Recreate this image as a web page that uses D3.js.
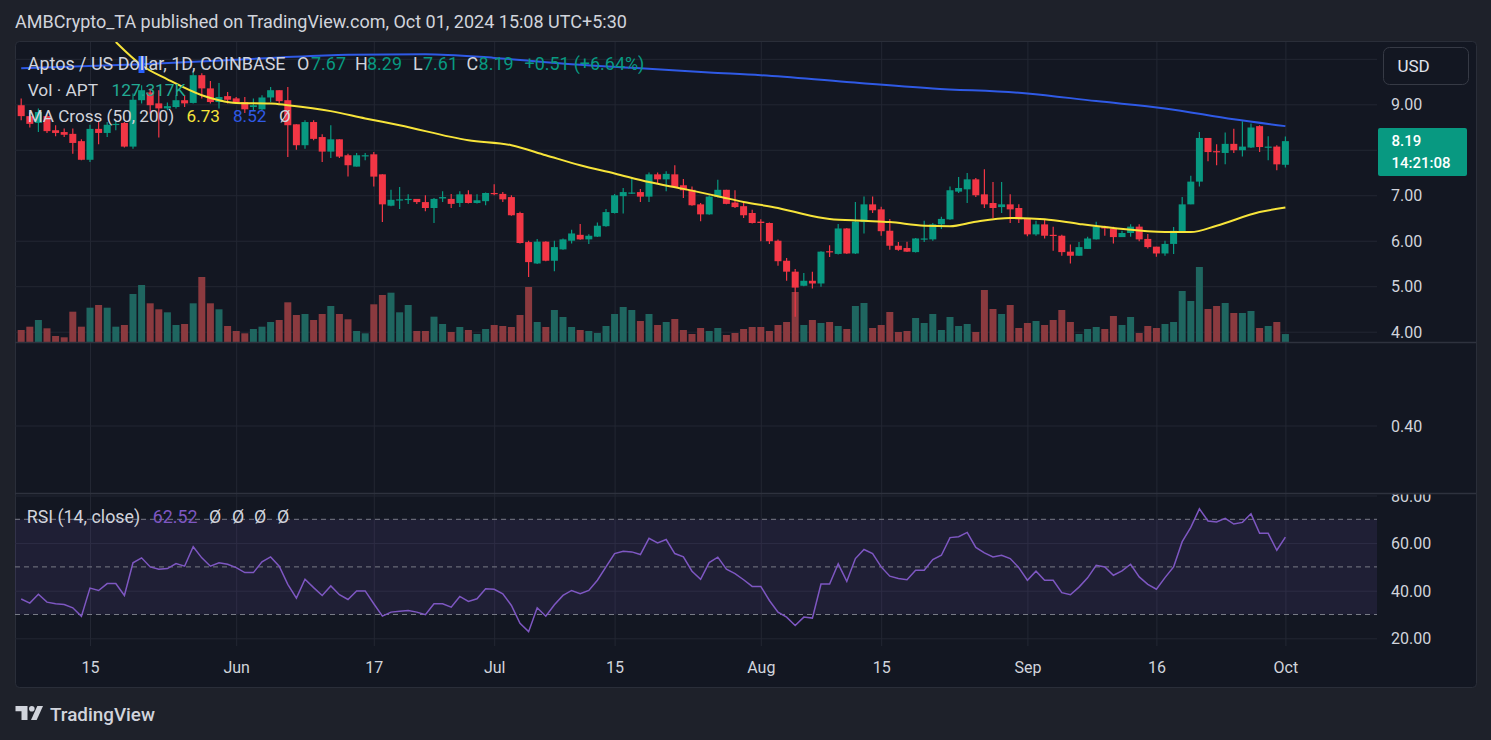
<!DOCTYPE html>
<html>
<head>
<meta charset="utf-8">
<title>Aptos / US Dollar</title>
<script src="https://cdn.jsdelivr.net/npm/d3@7"></script>
<style>
    html, body { margin: 0; padding: 0; background: #1e212a; }
    #chart { width: 1491px; height: 740px; }
    text { font-family: Roboto, "Noto Sans", sans-serif; }
</style>
</head>
<body>
<div id="chart"></div>
<script>

/* * * * * * * * * * * * * *
*    APT / USD daily      *
* * * * * * * * * * * * * */

// first candle of the visible range, one candle per day after it
const startDay = "2024-05-07";

const opens = [8.98, 8.74, 8.59, 8.74, 8.43, 8.39, 8.35, 8.19, 7.78, 8.46,
    8.37, 8.56, 8.59, 8.07, 9.09, 9.26, 9.02, 8.91, 8.94, 9.09,
    9.03, 9.64, 9.35, 9.05, 9.18, 9.13, 9.05, 8.94, 8.89, 9.15,
    9.31, 9.09, 8.56, 8.10, 8.61, 8.28, 7.96, 8.23, 7.88, 7.63,
    7.86, 7.90, 7.46, 6.77, 6.89, 6.91, 6.92, 6.85, 6.72, 6.93,
    6.92, 6.83, 7.02, 6.83, 6.87, 7.05, 7.03, 6.96, 6.61, 5.97,
    5.50, 5.98, 5.56, 5.81, 6.00, 6.13, 6.03, 6.09, 6.32, 6.61,
    6.98, 7.05, 7.07, 6.97, 7.46, 7.35, 7.46, 7.22, 7.12, 6.80,
    6.58, 6.96, 7.12, 6.84, 6.76, 6.61, 6.42, 6.39, 6.00, 5.56,
    5.32, 5.01, 5.12, 5.06, 5.77, 5.71, 6.27, 5.72, 6.41, 6.80,
    6.69, 6.22, 5.89, 5.84, 5.75, 6.04, 6.03, 6.36, 6.47, 7.08,
    7.13, 7.35, 7.02, 6.83, 6.74, 6.80, 6.72, 6.48, 6.14, 6.36,
    6.13, 6.11, 5.76, 5.67, 5.82, 6.03, 6.31, 6.27, 6.08, 6.17,
    6.31, 6.04, 5.87, 5.72, 5.93, 6.20, 6.80, 7.30, 8.26, 7.97,
    7.93, 8.13, 7.99, 8.05, 8.52, 8.06, 8.07, 7.67];

const highs = [9.13, 8.82, 8.91, 8.78, 8.54, 8.47, 8.47, 8.23, 8.55, 8.61,
    8.61, 8.65, 8.61, 9.24, 9.42, 9.35, 9.31, 9.04, 9.20, 9.20,
    9.71, 9.68, 9.51, 9.47, 9.27, 9.16, 9.16, 9.13, 9.20, 9.38,
    9.31, 9.38, 8.56, 8.65, 8.65, 8.34, 8.54, 8.23, 7.91, 7.93,
    7.93, 7.95, 7.46, 7.12, 7.18, 7.02, 6.92, 7.00, 6.94, 7.09,
    7.03, 7.09, 7.11, 7.02, 7.06, 7.24, 7.07, 7.00, 6.64, 6.00,
    6.04, 5.99, 6.00, 6.05, 6.24, 6.37, 6.14, 6.40, 6.70, 7.03,
    7.16, 7.38, 7.14, 7.50, 7.50, 7.53, 7.66, 7.36, 7.19, 6.83,
    7.00, 7.34, 7.12, 7.11, 6.86, 6.68, 6.47, 6.40, 6.03, 5.62,
    5.38, 5.29, 5.32, 5.77, 5.90, 6.37, 6.28, 6.85, 6.97, 6.97,
    6.75, 6.48, 5.97, 5.98, 6.06, 6.44, 6.39, 6.53, 7.19, 7.40,
    7.49, 7.38, 7.57, 7.29, 7.29, 7.02, 6.80, 6.50, 6.44, 6.46,
    6.31, 6.13, 5.92, 5.97, 6.09, 6.42, 6.33, 6.31, 6.22, 6.36,
    6.36, 6.15, 5.87, 6.00, 6.30, 6.96, 7.43, 8.39, 8.26, 8.12,
    8.38, 8.46, 8.63, 8.58, 8.54, 8.30, 8.10, 8.29];

const lows = [8.65, 8.49, 8.39, 8.37, 8.30, 8.28, 7.91, 7.77, 7.73, 8.12,
    8.28, 8.43, 8.05, 8.02, 9.02, 8.80, 8.27, 8.87, 8.91, 8.94,
    9.02, 9.13, 9.02, 8.91, 9.02, 9.02, 8.81, 8.87, 8.87, 9.05,
    9.02, 7.84, 8.00, 8.02, 8.21, 7.73, 7.82, 7.82, 7.41, 7.63,
    7.77, 7.19, 6.41, 6.76, 6.70, 6.81, 6.81, 6.65, 6.39, 6.85,
    6.72, 6.74, 6.82, 6.82, 6.78, 7.00, 6.85, 6.55, 5.94, 5.20,
    5.49, 5.55, 5.33, 5.80, 5.94, 6.02, 5.93, 6.08, 6.31, 6.60,
    6.60, 7.03, 6.85, 6.85, 7.27, 7.09, 7.17, 6.94, 6.77, 6.43,
    6.57, 6.95, 6.80, 6.72, 6.50, 6.38, 5.99, 5.93, 5.45, 5.12,
    4.33, 5.00, 4.95, 4.99, 5.64, 5.70, 5.71, 5.71, 6.16, 6.61,
    6.11, 5.80, 5.78, 5.75, 5.74, 5.97, 6.00, 6.26, 6.46, 7.05,
    6.83, 6.96, 6.72, 6.50, 6.61, 6.39, 6.39, 6.10, 6.11, 6.05,
    5.78, 5.67, 5.50, 5.67, 5.82, 6.03, 6.11, 5.94, 6.08, 6.09,
    5.99, 5.83, 5.65, 5.67, 5.71, 6.19, 6.80, 7.19, 7.75, 7.66,
    7.68, 7.93, 7.85, 8.04, 7.95, 7.77, 7.55, 7.61];

const closes = [8.74, 8.57, 8.83, 8.41, 8.37, 8.33, 8.15, 7.78, 8.46, 8.37,
    8.55, 8.57, 8.07, 9.10, 9.31, 8.98, 8.91, 8.96, 9.09, 9.02,
    9.64, 9.35, 9.05, 9.16, 9.10, 9.05, 8.89, 8.98, 9.15, 9.31,
    9.07, 8.54, 8.10, 8.61, 8.24, 7.96, 8.23, 7.85, 7.66, 7.88,
    7.88, 7.41, 6.80, 6.90, 6.91, 6.92, 6.85, 6.72, 6.92, 6.96,
    6.81, 7.02, 6.83, 6.89, 7.05, 7.04, 6.91, 6.56, 5.95, 5.53,
    5.98, 5.56, 5.86, 6.03, 6.16, 6.03, 6.11, 6.33, 6.63, 7.00,
    7.07, 7.06, 6.97, 7.46, 7.35, 7.47, 7.18, 7.11, 6.78, 6.58,
    6.97, 7.12, 6.81, 6.74, 6.56, 6.39, 6.39, 5.99, 5.55, 5.32,
    4.97, 5.12, 5.06, 5.76, 5.76, 6.27, 5.72, 6.42, 6.80, 6.67,
    6.21, 5.89, 5.80, 5.76, 6.05, 6.05, 6.36, 6.48, 7.11, 7.16,
    7.35, 7.00, 6.80, 6.72, 6.80, 6.69, 6.47, 6.14, 6.36, 6.11,
    6.12, 5.75, 5.67, 5.86, 6.05, 6.31, 6.27, 6.08, 6.17, 6.31,
    6.03, 5.86, 5.72, 5.93, 6.22, 6.80, 7.30, 8.26, 7.95, 7.96,
    8.13, 7.99, 8.07, 8.49, 8.06, 8.07, 7.68, 8.19];

// thousands of APT
const volumes = [192, 245, 352, 219, 96, 75, 485, 245, 549, 592,
    549, 245, 272, 768, 912, 619, 523, 475, 272, 288,
    619, 1040, 619, 523, 256, 176, 139, 208, 245, 320,
    352, 635, 432, 448, 352, 448, 576, 448, 363, 176,
    139, 603, 752, 789, 475, 592, 176, 176, 405, 288,
    160, 240, 192, 128, 208, 272, 256, 240, 432, 880,
    320, 240, 512, 400, 240, 192, 176, 144, 256, 448,
    560, 512, 336, 448, 272, 320, 368, 192, 128, 224,
    176, 224, 112, 144, 208, 240, 240, 176, 272, 320,
    800, 272, 352, 304, 320, 256, 208, 576, 624, 224,
    272, 480, 160, 176, 384, 304, 448, 192, 400, 256,
    288, 160, 832, 528, 448, 592, 224, 304, 336, 272,
    352, 512, 320, 128, 208, 240, 208, 416, 272, 400,
    144, 256, 224, 288, 320, 816, 656, 1200, 528, 576,
    624, 464, 464, 496, 224, 256, 320, 127.317];

const rsiValues = [36.5, 34.8, 38.5, 35.2, 34.5, 34.2, 32.8, 29.2, 41.1, 40.1,
    43.0, 43.0, 38.0, 51.7, 53.8, 50.0, 49.0, 49.3, 51.4, 50.3,
    58.5, 53.8, 50.3, 51.7, 51.1, 49.7, 47.6, 47.6, 52.1, 54.2,
    50.3, 42.7, 36.9, 44.8, 41.3, 38.0, 42.0, 38.3, 36.3, 39.9,
    39.9, 34.5, 29.3, 31.0, 31.4, 31.7, 31.0, 29.9, 34.5, 34.5,
    33.1, 37.6, 35.5, 36.6, 40.8, 40.6, 38.7, 33.8, 26.3, 22.8,
    32.8, 29.3, 34.1, 38.0, 40.1, 38.7, 40.1, 44.4, 50.0, 55.6,
    56.6, 56.3, 55.2, 62.0, 60.1, 61.5, 55.6, 54.2, 48.2, 44.8,
    51.8, 54.1, 49.0, 47.2, 44.6, 41.8, 41.8, 35.9, 31.0, 28.9,
    25.4, 28.9, 28.5, 42.8, 42.8, 51.3, 43.9, 53.5, 57.3, 55.6,
    50.0, 46.1, 45.1, 44.6, 48.6, 48.6, 53.1, 54.9, 62.3, 62.7,
    64.5, 58.2, 55.9, 54.2, 54.9, 53.5, 49.7, 44.4, 48.2, 44.4,
    44.4, 39.2, 38.3, 41.5, 45.4, 50.7, 50.0, 46.5, 48.3, 51.1,
    45.8, 42.7, 40.6, 45.5, 50.0, 60.6, 66.6, 74.4, 69.3, 68.9,
    70.4, 68.0, 68.7, 72.3, 64.1, 64.1, 57.0, 62.52];

// moving averages, read at sample days (day number counted from startDay)
const ma50Days = [11, 14, 17, 21, 23, 25, 29, 31, 36, 40, 44, 52, 57, 61, 65, 69, 73, 77, 81,
    84, 88, 90, 94, 98, 101, 105, 108, 111, 115, 119, 123, 127, 133, 136, 139, 144, 147];
const ma50Values = [10.37, 9.86, 9.55, 9.20, 9.09, 9.03, 9.02, 8.98, 8.85, 8.69, 8.54, 8.21, 8.10, 7.88,
    7.66, 7.48, 7.29, 7.14, 6.98, 6.85, 6.72, 6.63, 6.48, 6.44, 6.41, 6.33, 6.32, 6.42, 6.50,
    6.47, 6.37, 6.28, 6.19, 6.19, 6.33, 6.63, 6.73];

const ma200Days = [0, 14, 29, 38, 47, 55, 64, 72, 80, 86, 96, 106, 117, 125, 133, 141, 147];
const ma200Values = [9.79, 9.88, 10.02, 10.09, 10.10, 10.02, 9.88, 9.79, 9.70, 9.64, 9.49, 9.35,
    9.24, 9.07, 8.91, 8.67, 8.52];

const priceTicks = [4, 5, 6, 7, 8, 9, 10];
const rsiTicks = [20, 40, 60, 80];
const rsiLevels = [30, 50, 70];
const blankTicks = [0.40];
const timeTicks = ["2024-05-15", "2024-06-01", "2024-06-17", "2024-07-01", "2024-07-15",
    "2024-08-01", "2024-08-15", "2024-09-01", "2024-09-16", "2024-10-01"];
const timeLabels = ["15", "Jun", "17", "Jul", "15", "Aug", "15", "Sep", "16", "Oct"];

const parseDay = d3.utcParse("%Y-%m-%d");
const green = "#089981", red = "#f23645";

function fitText(sel, targetWidth) {
    let len = sel.node().getComputedTextLength();
    let size = parseFloat(sel.attr("font-size"));
    sel.attr("font-size", size * targetWidth / len);
    return size * targetWidth / len;
}

class ChartVis {

    constructor(parentElement) {
        this.parentElement = parentElement;
        this.initVis();
    }

    initVis() {
        let vis = this;

        vis.width = 1491;
        vis.height = 740;

        // pane layout
        vis.plotLeft = 15;
        vis.plotRight = 1377;
        vis.frameRight = 1476;
        vis.priceTop = 42;
        vis.priceBottom = 342;
        vis.midBottom = 493;
        vis.rsiBottom = 646;
        vis.frameBottom = 687;

        vis.svg = d3.select("#" + vis.parentElement).append("svg")
            .attr("width", vis.width)
            .attr("height", vis.height);

        vis.svg.append("rect")
            .attr("width", vis.width).attr("height", vis.height)
            .attr("fill", "#1e212a");

        vis.svg.append("rect")
            .attr("x", 15.5).attr("y", 41.5)
            .attr("width", vis.frameRight - 15).attr("height", vis.frameBottom - 41)
            .attr("rx", 4)
            .attr("fill", "#131722")
            .attr("stroke", "#2a2e39");

        // scales
        vis.x = d3.scaleUtc()
            .domain([parseDay(startDay), parseDay("2024-10-01")])
            .range([21.2, 1285.4]);
        vis.y = d3.scaleLinear().domain([4, 9]).range([331.7, 104.3]);
        vis.yVol = d3.scaleLinear().domain([0, 1600]).range([vis.priceBottom, vis.priceBottom - 100]);
        vis.yBlank = d3.scaleLinear().domain([0.2, 0.6]).range([505.5, 345.5]);
        vis.yRsi = d3.scaleLinear().domain([20, 80]).range([638.3, 495.5]);

        let defs = vis.svg.append("defs");
        defs.append("clipPath").attr("id", "clip-price").append("rect")
            .attr("x", vis.plotLeft).attr("y", vis.priceTop)
            .attr("width", vis.plotRight - vis.plotLeft).attr("height", vis.priceBottom - vis.priceTop);
        defs.append("clipPath").attr("id", "clip-rsi").append("rect")
            .attr("x", vis.plotLeft).attr("y", vis.midBottom)
            .attr("width", vis.plotRight - vis.plotLeft).attr("height", vis.rsiBottom - vis.midBottom);
        defs.append("clipPath").attr("id", "clip-rsi-axis").append("rect")
            .attr("x", vis.plotRight).attr("y", vis.midBottom + 1.5)
            .attr("width", vis.frameRight - vis.plotRight).attr("height", vis.rsiBottom - vis.midBottom);

        vis.gridGroup = vis.svg.append("g");
        vis.rsiBack = vis.svg.append("g").attr("clip-path", "url(#clip-rsi)");
        vis.volGroup = vis.svg.append("g").attr("clip-path", "url(#clip-price)");
        vis.candleGroup = vis.svg.append("g").attr("clip-path", "url(#clip-price)");
        vis.maGroup = vis.svg.append("g").attr("clip-path", "url(#clip-price)");
        vis.rsiGroup = vis.svg.append("g").attr("clip-path", "url(#clip-rsi)");
        vis.axisGroup = vis.svg.append("g");
        vis.legendGroup = vis.svg.append("g");

        vis.wrangleData();
    }

    wrangleData() {
        let vis = this;
        let start = parseDay(startDay);

        vis.candles = opens.map((o, i) => ({
            date: d3.utcDay.offset(start, i),
            open: o, high: highs[i], low: lows[i], close: closes[i],
            volume: volumes[i], rsi: rsiValues[i],
            up: closes[i] >= o
        }));

        vis.ma50 = ma50Days.map((d, i) => ({date: d3.utcDay.offset(start, d), value: ma50Values[i]}));
        vis.ma200 = ma200Days.map((d, i) => ({date: d3.utcDay.offset(start, d), value: ma200Values[i]}));

        vis.updateVis();
    }

    updateVis() {
        let vis = this;
        let plotW = vis.plotRight - vis.plotLeft;
        let gridColor = "#232733";
        let last = vis.candles[vis.candles.length - 1];

        // vertical grid through all panes
        vis.gridGroup.append("g")
            .attr("transform", `translate(0, ${vis.rsiBottom})`)
            .call(d3.axisBottom(vis.x).tickValues(timeTicks.map(parseDay))
                .tickSize(-(vis.rsiBottom - vis.priceTop)).tickFormat(""))
            .call(g => g.select(".domain").remove())
            .selectAll("line").attr("stroke", gridColor);

        // horizontal grids
        let hGrid = (scale, ticks) => vis.gridGroup.append("g")
            .attr("transform", `translate(${vis.plotRight}, 0)`)
            .call(d3.axisLeft(scale).tickValues(ticks).tickSize(plotW).tickFormat(""))
            .call(g => g.select(".domain").remove())
            .selectAll("line").attr("stroke", gridColor);
        hGrid(vis.y, priceTicks);
        hGrid(vis.yBlank, blankTicks);
        hGrid(vis.yRsi, rsiTicks);

        // RSI band and levels
        vis.rsiBack.append("rect")
            .attr("x", vis.plotLeft).attr("width", plotW)
            .attr("y", vis.yRsi(70)).attr("height", vis.yRsi(30) - vis.yRsi(70))
            .attr("fill", "#7e57c2").attr("fill-opacity", 0.12);
        vis.rsiBack.selectAll("line.level")
            .data(rsiLevels)
            .join("line")
            .attr("class", "level")
            .attr("x1", vis.plotLeft).attr("x2", vis.plotRight)
            .attr("y1", d => vis.yRsi(d)).attr("y2", d => vis.yRsi(d))
            .attr("stroke", "#787b86")
            .attr("stroke-width", 1)
            .attr("stroke-dasharray", "5,4");

        // volume
        vis.volGroup.selectAll("rect")
            .data(vis.candles)
            .join("rect")
            .attr("x", d => vis.x(d.date) - 3.5)
            .attr("width", 7)
            .attr("y", d => vis.yVol(d.volume))
            .attr("height", d => vis.priceBottom - vis.yVol(d.volume))
            .attr("fill", d => d.up ? "#1f6660" : "#8b3a3f");

        // candles
        let candle = vis.candleGroup.selectAll("g")
            .data(vis.candles)
            .join("g");
        candle.append("line")
            .attr("x1", d => vis.x(d.date)).attr("x2", d => vis.x(d.date))
            .attr("y1", d => vis.y(d.high)).attr("y2", d => vis.y(d.low))
            .attr("stroke", d => d.up ? green : red)
            .attr("stroke-width", 1.2);
        candle.append("rect")
            .attr("x", d => vis.x(d.date) - 3.5)
            .attr("width", 7)
            .attr("y", d => vis.y(Math.max(d.open, d.close)))
            .attr("height", d => Math.max(1.2, Math.abs(vis.y(d.open) - vis.y(d.close))))
            .attr("fill", d => d.up ? green : red);

        // moving averages
        let maLine = d3.line()
            .x(d => vis.x(d.date))
            .y(d => vis.y(d.value))
            .curve(d3.curveMonotoneX);
        vis.maGroup.append("path")
            .datum(vis.ma200)
            .attr("d", maLine)
            .attr("fill", "none")
            .attr("stroke", "#2f5ae6")
            .attr("stroke-width", 2);
        vis.maGroup.append("path")
            .datum(vis.ma50)
            .attr("d", maLine)
            .attr("fill", "none")
            .attr("stroke", "#f7e43a")
            .attr("stroke-width", 2);

        // RSI
        vis.rsiGroup.append("path")
            .datum(vis.candles)
            .attr("d", d3.line().x(d => vis.x(d.date)).y(d => vis.yRsi(d.rsi)))
            .attr("fill", "none")
            .attr("stroke", "#7e57c2")
            .attr("stroke-width", 1.5);

        // pane separators
        vis.axisGroup.selectAll("line.sep")
            .data([vis.priceBottom, vis.midBottom])
            .join("line")
            .attr("class", "sep")
            .attr("x1", vis.plotLeft).attr("x2", vis.frameRight)
            .attr("y1", d => d + 0.5).attr("y2", d => d + 0.5)
            .attr("stroke", "#2e323e")
            .attr("stroke-width", 1.5);

        // right scales (clip sits on an untransformed wrapper)
        let rightAxis = (scale, ticks, clip) => {
            let wrap = vis.axisGroup.append("g");
            if (clip) wrap.attr("clip-path", clip);
            let g = wrap.append("g")
                .attr("transform", "translate(1391, 0)")
                .call(d3.axisRight(scale).tickValues(ticks).tickFormat(d3.format(".2f"))
                    .tickSize(0).tickPadding(0));
            g.select(".domain").remove();
            g.attr("font-family", "Roboto, 'Noto Sans', sans-serif")
                .attr("font-size", 16);
            g.selectAll("text").attr("fill", "#d1d4dc").attr("x", 0).attr("dy", "0.35em");
        };
        // labels under the USD button or the last-price tag are not shown
        let tagY = vis.y(last.close);
        rightAxis(vis.y, priceTicks.filter(d => d < 10 && Math.abs(vis.y(d) - tagY) > 30));
        rightAxis(vis.yBlank, blankTicks);
        rightAxis(vis.yRsi, rsiTicks, "url(#clip-rsi-axis)");

        // time axis
        let tAxis = vis.axisGroup.append("g")
            .attr("transform", "translate(0, 667)")
            .call(d3.axisBottom(vis.x).tickValues(timeTicks.map(parseDay))
                .tickFormat((d, i) => timeLabels[i]).tickSize(0).tickPadding(0));
        tAxis.select(".domain").remove();
        tAxis.attr("font-family", "Roboto, 'Noto Sans', sans-serif").attr("font-size", 16);
        tAxis.selectAll("text").attr("fill", "#d1d4dc").attr("y", 0).attr("dy", "0.35em");

        // USD button
        vis.legendGroup.append("rect")
            .attr("x", 1383.5).attr("y", 47.5).attr("width", 85).attr("height", 37)
            .attr("rx", 6)
            .attr("fill", "#131722").attr("stroke", "#363a45");
        vis.legendGroup.append("text")
            .attr("x", 1397.5).attr("y", 66).attr("dy", "0.35em")
            .attr("font-size", 17).attr("fill", "#e0e3eb")
            .text("USD");

        // last price tag
        vis.legendGroup.append("rect")
            .attr("x", 1378).attr("y", 128).attr("width", 89).attr("height", 48)
            .attr("rx", 2)
            .attr("fill", last.up ? green : red);
        vis.legendGroup.append("text")
            .attr("x", 1391.5).attr("y", 141).attr("dy", "0.35em")
            .attr("font-size", 15).attr("font-weight", 500).attr("fill", "#ffffff")
            .text(d3.format(".2f")(last.close));
        vis.legendGroup.append("text")
            .attr("x", 1391.5).attr("y", 163).attr("dy", "0.35em")
            .attr("font-size", 15).attr("font-weight", 500).attr("fill", "#ffffff")
            .text("14:21:08");

        // small marker on the MA200 line
        vis.legendGroup.append("rect")
            .attr("x", 138.5).attr("y", 56).attr("width", 6).attr("height", 17)
            .attr("fill", "#2962ff");

        // legends
        let grey = "#d1d4dc";
        let prevClose = vis.candles[vis.candles.length - 2].close;
        let change = last.close - prevClose;
        let f2 = d3.format(".2f");

        let addRow = (y, items, firstWidth) => {
            let size = 16;
            items.forEach((it, i) => {
                let t = vis.legendGroup.append("text")
                    .attr("x", it[1]).attr("y", y).attr("dy", "0.35em")
                    .attr("font-size", size)
                    .attr("fill", it[2])
                    .text(it[0]);
                if (i === 0) size = fitText(t, firstWidth);
            });
        };

        addRow(63.5, [
            ["Aptos / US Dollar, 1D, COINBASE", 27.7, grey],
            ["O", 297, grey], [f2(last.open), 311, green],
            ["H", 355, grey], [f2(last.high), 367, green],
            ["L", 413, grey], [f2(last.low), 423, green],
            ["C", 466.5, grey], [f2(last.close), 478.6, green],
            [(change >= 0 ? "+" : "") + f2(change), 524.5, green],
            ["(" + (change >= 0 ? "+" : "") + f2(change / prevClose * 100) + "%)", 573.7, green]
        ], 258);

        addRow(89.5, [
            ["Vol · APT", 27.7, grey],
            [d3.format(".3f")(last.volume) + "K", 111.6, "#22ab94"]
        ], 70.5);

        addRow(116, [
            ["MA Cross (50, 200)", 27.7, grey],
            [f2(ma50Values[ma50Values.length - 1]), 186.6, "#f7e43a"],
            [f2(ma200Values[ma200Values.length - 1]), 233, "#2f5ae6"],
            ["Ø", 279, grey]
        ], 146.5);

        addRow(517, [
            ["RSI (14, close)", 26.7, grey],
            [f2(last.rsi), 152.7, "#7e57c2"],
            ["Ø", 209, grey], ["Ø", 232, grey], ["Ø", 254, grey], ["Ø", 277, grey]
        ], 113.5);

        // title
        let title = vis.legendGroup.append("text")
            .attr("x", 15).attr("y", 22).attr("dy", "0.35em")
            .attr("font-size", 17).attr("fill", grey)
            .text("AMBCrypto_TA published on TradingView.com, Oct 01, 2024 15:08 UTC+5:30");
        fitText(title, 612);

        // TradingView logo
        let logo = vis.legendGroup.append("g").attr("transform", "translate(15.5, 706)").attr("fill", grey);
        logo.append("path").attr("d", "M0,0 H12 V14 H6 V5.2 H0 Z");
        logo.append("circle").attr("cx", 16.3).attr("cy", 2.8).attr("r", 2.8);
        logo.append("path").attr("d", "M15.5,14 L21.8,0 H27.5 L21.2,14 Z");
        let brand = vis.legendGroup.append("text")
            .attr("x", 50).attr("y", 714.5).attr("dy", "0.35em")
            .attr("font-size", 19).attr("font-weight", 500).attr("fill", grey)
            .text("TradingView");
        fitText(brand, 105);
    }
}

new ChartVis("chart");
</script>
</body>
</html>
